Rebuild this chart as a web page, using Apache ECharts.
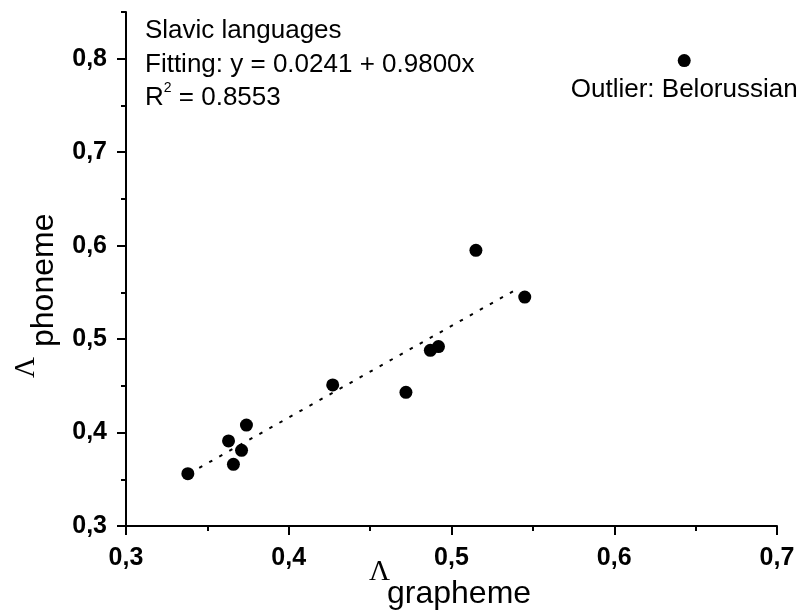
<!DOCTYPE html>
<html>
<head>
<meta charset="utf-8">
<script src="https://cdn.jsdelivr.net/npm/echarts@6/dist/echarts.min.js"></script>
<style>
  html, body { margin: 0; padding: 0; background: #fff; }
  #chart { width: 799px; height: 614px; }
</style>
</head>
<body>
<div id="chart"></div>
<script>
// Slavic languages: grapheme vs phoneme Lambda values
const graphemeValues = [0.338, 0.363, 0.366, 0.371, 0.374, 0.427, 0.472, 0.487, 0.492, 0.515, 0.545];
const phonemeValues  = [0.356, 0.391, 0.366, 0.381, 0.408, 0.451, 0.443, 0.488, 0.492, 0.595, 0.545];

// Outlier, drawn separately with its own label
const outlierName = 'Belorussian';
const outlierPoint = [0.643, 0.798];

// Linear fit y = a + b x, drawn over the fitted range
const fitIntercept = 0.0241;
const fitSlope = 0.9800;
const fitR2 = 0.8553;
const fitRange = [0.345, 0.542];

// Axis ticks
const yMajorTicks = [0.3, 0.4, 0.5, 0.6, 0.7, 0.8];
const yMinorTicks = [0.35, 0.45, 0.55, 0.65, 0.75, 0.85];

// Axis titles: Greek symbol plus subscript word
const axisSymbol = 'Λ';
const xSubscript = 'grapheme';
const ySubscript = 'phoneme';

const FONT = '"Liberation Sans", Arial, sans-serif';
const SERIF = '"Liberation Serif", "Times New Roman", serif';
const SYM_SIZE = 29;
const SUB_SIZE = 32;

const commaFmt = v => v.toFixed(1).replace('.', ',');

const points = graphemeValues.map((x, i) => [x, phonemeValues[i]]);
const fitLine = fitRange.map(x => [x, fitIntercept + fitSlope * x]);

// text placed by its baseline (text drawn bottom-aligned with lineHeight = fontSize)
function baselineText(str, x, baseline, family, size) {
  return {
    type: 'text',
    x: x,
    y: baseline + 0.15 * size,
    style: {
      text: str,
      fontFamily: family,
      fontSize: size,
      lineHeight: size,
      fill: '#000',
      align: 'left',
      verticalAlign: 'bottom'
    }
  };
}

const chart = echarts.init(document.getElementById('chart'), null, { renderer: 'canvas' });

chart.setOption({
  backgroundColor: '#fff',
  animation: false,
  grid: { left: 126, right: 22, top: 12, bottom: 88, containLabel: false, outerBoundsMode: 'none' },
  xAxis: {
    type: 'value',
    min: 0.3, max: 0.7, interval: 0.1,
    axisLine: { show: true, onZero: false, lineStyle: { color: '#000', width: 2 } },
    axisTick: { show: true, inside: false, length: 9, lineStyle: { color: '#000', width: 2 } },
    minorTick: { show: true, splitNumber: 2, length: 5, lineStyle: { color: '#000', width: 2 } },
    axisLabel: { margin: 20, color: '#000', fontFamily: FONT, fontWeight: 'bold', fontSize: 25, formatter: commaFmt },
    splitLine: { show: false },
    minorSplitLine: { show: false }
  },
  yAxis: [
    {
      type: 'value',
      min: 0.3, max: 0.85,
      position: 'left',
      axisLine: { show: true, onZero: false, lineStyle: { color: '#000', width: 2 } },
      axisTick: { show: true, inside: false, length: 9, customValues: yMajorTicks, lineStyle: { color: '#000', width: 2 } },
      axisLabel: { margin: 19, color: '#000', fontFamily: FONT, fontWeight: 'bold', fontSize: 25, customValues: yMajorTicks, formatter: commaFmt },
      splitLine: { show: false }
    },
    {
      type: 'value',
      min: 0.3, max: 0.85,
      position: 'left',
      offset: 0,
      axisLine: { show: false },
      axisTick: { show: true, inside: false, length: 5, customValues: yMinorTicks, lineStyle: { color: '#000', width: 2 } },
      axisLabel: { show: false },
      splitLine: { show: false }
    }
  ],
  graphic: [
    {
      type: 'text',
      left: 145,
      top: 18,
      style: {
        text: '{n|Slavic languages}\n{n|Fitting: y = ' + fitIntercept.toFixed(4) + ' + ' + fitSlope.toFixed(4) + 'x}\n{n|R}{sup|2}{n| = ' + fitR2.toFixed(4) + '}',
        rich: {
          n: { fontFamily: FONT, fontSize: 26, lineHeight: 33.5, color: '#000' },
          sup: { fontFamily: FONT, fontSize: 14, lineHeight: 28, verticalAlign: 'top', color: '#000' }
        }
      }
    },
    // x axis title
    {
      type: 'group',
      x: 0, y: 0,
      children: [
        baselineText(axisSymbol, 369, 583, SERIF, SYM_SIZE),
        baselineText(xSubscript, 387, 605, FONT, SUB_SIZE)
      ]
    },
    // y axis title, reading bottom to top
    {
      type: 'group',
      x: 0, y: 378,
      rotation: Math.PI / 2,
      children: [
        baselineText(axisSymbol, 0, 37, SERIF, SYM_SIZE),
        baselineText(ySubscript, 31, 55, FONT, SUB_SIZE)
      ]
    }
  ],
  series: [
    {
      name: 'fit',
      type: 'line',
      data: fitLine,
      showSymbol: false,
      symbol: 'none',
      silent: true,
      lineStyle: { color: '#000', width: 2, type: [3.5, 8] },
      z: 1
    },
    {
      name: 'Slavic languages',
      type: 'scatter',
      data: points,
      symbol: 'circle',
      symbolSize: 13,
      itemStyle: { color: '#000', opacity: 1 },
      z: 3
    },
    {
      name: 'outlier',
      type: 'scatter',
      data: [outlierPoint],
      symbol: 'circle',
      symbolSize: 13,
      itemStyle: { color: '#000', opacity: 1 },
      label: {
        show: true,
        position: 'bottom',
        distance: 10,
        formatter: 'Outlier: ' + outlierName,
        fontFamily: FONT,
        fontSize: 26,
        color: '#000'
      },
      z: 3
    }
  ]
});
</script>
</body>
</html>
